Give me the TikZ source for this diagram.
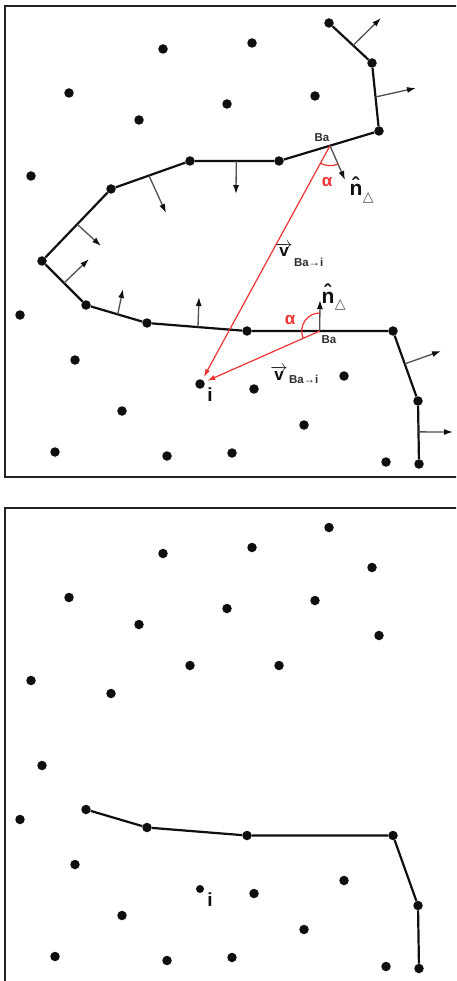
\documentclass[tikz,border=0pt]{standalone}
\usepackage{fontspec}
\setmainfont{Liberation Sans}
\newfontfamily\djv{DejaVu Sans}
\usetikzlibrary{arrows.meta,calc}
\definecolor{ink}{RGB}{15,15,15}
\definecolor{framec}{RGB}{34,34,34}
\definecolor{nrmc}{RGB}{80,80,80}
\definecolor{redc}{RGB}{240,50,50}
\definecolor{lblc}{RGB}{45,45,45}
\begin{document}
\begin{tikzpicture}[x=1pt,y=-1pt,
  dot/.style={circle,fill=ink,inner sep=0pt,minimum size=9.5pt},
  chain/.style={draw=ink,line width=2.2pt,line join=round},
  nrm/.style={draw=nrmc,line width=1.3pt,-{Latex[length=9pt,width=6pt,color=ink]}},
  ray/.style={draw=redc,line width=1.2pt,shorten >=3pt,-{Latex[length=8pt,width=5pt]}},
  ang/.style={draw=redc,line width=1.2pt},
  frame/.style={draw=framec,line width=2.6pt},
  balbl/.style={font=\fontsize{11.5}{11.5}\selectfont\bfseries,text=lblc,inner sep=0pt},
  albl/.style={font=\fontsize{17}{17}\selectfont\bfseries,text=redc,inner sep=0pt},
  nlbl/.style={font=\fontsize{21}{21}\selectfont\bfseries,text=ink,inner sep=0pt,anchor=base},
  trilbl/.style={font=\fontsize{14}{14}\selectfont,text=nrmc,inner sep=0pt},
  vlbl/.style={font=\fontsize{17}{17}\selectfont\bfseries,text=ink,inner sep=0pt,anchor=base},
  sublbl/.style={font=\fontsize{11.5}{11.5}\selectfont\bfseries,text=lblc,inner sep=0pt,anchor=base west},
  ilbl/.style={font=\fontsize{19}{19}\selectfont\bfseries,text=ink,inner sep=0pt}]
\fill[white] (0,0) rectangle (456,981);
\clip (0,0) rectangle (456,981);
% frames
\draw[frame] (470,6) -- (5,6) -- (5,477) -- (470,477);
\draw[frame] (470,508) -- (5,508) -- (5,990);
% boundary vertices (top p, bottom q)
\foreach \n/\x/\y in {1/329/23, 2/372/63, 3/379/131, 4/279/161, 5/190/161, 6/111/189, 7/42/261,
  8/86/305, 9/147/323, 10/247/331, 11/393/331, 12/418/401, 13/419/464} {
  \node[dot] (p\n) at (\x,\y) {};
  \node[dot] (q\n) at (\x,\y+504.5) {};
}
% free points (top d, bottom e)
\foreach \n/\x/\y in {1/163/49, 2/252/43, 3/69/93, 4/227/104, 5/315/96, 6/139/120, 7/31/176,
  8/20/315, 9/75/360, 10/254/389, 11/344/376, 12/122/411, 13/304/425, 14/55/452,
  15/167/456, 16/232/453, 17/386/462} {
  \node[dot] (d\n) at (\x,\y) {};
  \node[dot] (e\n) at (\x,\y+504.5) {};
}
\node[dot] (i) at (200,384) {};
\node[dot,minimum size=8pt] (ib) at (200,889) {};
% top boundary
\draw[chain] (p1) -- (p2) -- (p3) -- (p4) -- (p5) -- (p6) -- (p7) -- (p8) -- (p9) -- (p10) -- (p11) -- (p12) -- (p13);
% bottom boundary
\draw[chain] (q8) -- (q9) -- (q10) -- (q11) -- (q12) -- (q13);
% normals
\coordinate (s1) at ($(p1)!0.56!(p2)$);   \coordinate (t1) at (381,18);
\coordinate (s2) at ($(p2)!0.5!(p3)$);    \coordinate (t2) at (416,88);
\coordinate (s4) at ($(p4)!0.48!(p5)$);   \coordinate (t4) at (236,194);
\coordinate (s5) at ($(p5)!0.52!(p6)$);   \coordinate (t5) at (166,213);
\coordinate (s6) at ($(p6)!0.49!(p7)$);   \coordinate (t6) at (101,246);
\coordinate (s7) at ($(p7)!0.5!(p8)$);    \coordinate (t7) at (89,259);
\coordinate (s8) at ($(p8)!0.52!(p9)$);   \coordinate (t8) at (123,289);
\coordinate (s9) at ($(p9)!0.51!(p10)$);  \coordinate (t9) at (199,297);
\coordinate (s11) at ($(p11)!0.47!(p12)$); \coordinate (t11) at (441,351);
\coordinate (s12) at ($(p12)!0.49!(p13)$); \coordinate (t12) at (453,432);
\foreach \k in {1,2,4,5,6,7,8,9,11,12} \draw[nrm] (s\k) -- (t\k);
% Ba points
\coordinate (ba1) at ($(p3)!0.49!(p4)$);
\coordinate (ba2) at ($(p10)!0.498!(p11)$);
\coordinate (nt1) at (345,180);
\coordinate (nt2) at (320,300);
\draw[nrm] (ba1) -- (nt1);
\draw[nrm] (ba2) -- (nt2);
% red rays and angles
\draw[ray] (ba1) -- (i);
\draw[ray] (ba2) -- (i);
\draw[ang] (ba1) ++(118.6:20) arc[start angle=118.6,end angle=66.7,radius=20];
\draw[ang] (ba2) ++(156.1:18) arc[start angle=156.1,end angle=270,radius=18];
% labels
\node[balbl] (bal1) at (322,138) {Ba};
\node[balbl] (bal2) at (329,340) {Ba};
\node[albl] (al1) at (327,182) {α};
\node[albl] (al2) at (290,320) {α};
\node[nlbl] (nh1) at (356,196) {\^{n}};
\node[trilbl,anchor=north west] (tr1) at ($(nh1.base east)+(0,-4)$) {\djv △};
\node[nlbl] (nh2) at (328,303) {\^{n}};
\node[trilbl,anchor=north west] (tr2) at ($(nh2.base east)+(0,-4)$) {\djv △};
\node[vlbl] (v1) at (284,257) {$\overrightarrow{\mbox{v}}$};
\node[sublbl] (vs1) at ($(v1.base east)+(1,10)$) {Ba→i};
\node[vlbl] (v2) at (279,380) {$\overrightarrow{\mbox{v}}$};
\node[sublbl] (vs2) at ($(v2.base east)+(1,3)$) {Ba→i};
\node[ilbl] (il) at (210,395) {i};
\node[ilbl] (ilb) at (210,900) {i};
\end{tikzpicture}
\end{document}
